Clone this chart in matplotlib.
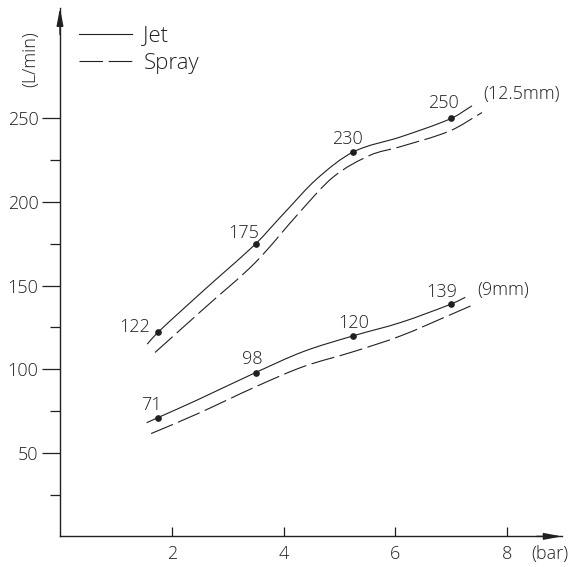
import numpy as np
import matplotlib
matplotlib.use("Agg")
import matplotlib.pyplot as plt
from matplotlib.path import Path
from matplotlib.patches import PathPatch
from matplotlib.lines import Line2D

plt.rcParams['font.family'] = ['Open Sans', 'DejaVu Sans']
plt.rcParams['font.weight'] = 'light'
plt.rcParams['axes.labelweight'] = 'light'
plt.rcParams['lines.scale_dashes'] = False

INK = '#231f20'

# ---- data ----
pressure_pts = [1.75, 3.5, 5.25, 7.0]          # bar
jet_125_pts = [122, 175, 230, 250]            # L/min, 12.5 mm nozzle
jet_9_pts = [71, 98, 120, 139]                # L/min, 9 mm nozzle

# traced curves
jet_125_x = [1.56, 1.75, 2.6, 3.5, 4.0, 4.6, 5.25, 6.1, 7.0, 7.37]
jet_125_y = [115, 122, 148, 175, 193, 214, 230, 239, 250, 257.5]
spray_125_x = [1.70, 2.6, 3.5, 4.29, 4.89, 5.55, 6.08, 6.98, 7.55]
spray_125_y = [110, 137, 164, 194, 215, 228, 233, 242.6, 253.5]
jet_9_x = [1.55, 1.75, 2.45, 3.5, 4.35, 5.25, 6.1, 7.0, 7.25]
jet_9_y = [68, 71, 81.5, 98, 110.5, 120, 128, 139, 143]
spray_9_x = [1.63, 2.45, 3.5, 4.35, 5.25, 6.1, 7.0, 7.41]
spray_9_y = [61.5, 73.2, 89.5, 101.5, 110.5, 120, 132.8, 138.8]

y_major = [50, 100, 150, 200, 250]
y_minor = [25, 75, 125, 175, 225]
x_major = [2, 4, 6, 8]


def smooth_path(xs, ys):
    xs = np.asarray(xs, float)
    ys = np.asarray(ys, float)
    n = len(xs)
    m = np.empty(n)
    for i in range(n):
        if i == 0:
            m[i] = (ys[1] - ys[0]) / (xs[1] - xs[0])
        elif i == n - 1:
            m[i] = (ys[-1] - ys[-2]) / (xs[-1] - xs[-2])
        else:
            m[i] = (ys[i + 1] - ys[i - 1]) / (xs[i + 1] - xs[i - 1])
    verts = [(xs[0], ys[0])]
    codes = [Path.MOVETO]
    for i in range(n - 1):
        dx = xs[i + 1] - xs[i]
        verts += [(xs[i] + dx / 3, ys[i] + m[i] * dx / 3),
                  (xs[i + 1] - dx / 3, ys[i + 1] - m[i + 1] * dx / 3),
                  (xs[i + 1], ys[i + 1])]
        codes += [Path.CURVE4] * 3
    return Path(verts, codes)


W, H = 577, 567
fig = plt.figure(figsize=(W / 100, H / 100), dpi=100)
x0_px, y0_px, xr_px, yt_px = 60, 536.4, 561.7, 8
ax = fig.add_axes([x0_px / W, (H - y0_px) / H, (xr_px - x0_px) / W, (y0_px - yt_px) / H])
ax.set_xlim(0, (xr_px - x0_px) / 55.9)
ax.set_ylim(0, (y0_px - yt_px) / 1.672)
ax.patch.set_visible(False)

for s in ['top', 'right']:
    ax.spines[s].set_visible(False)
for s in ['left', 'bottom']:
    ax.spines[s].set_color(INK)
    ax.spines[s].set_linewidth(1.0)

lw = 0.8
dash = (0, (17, 4))

for xs, ys, ls in [(jet_125_x, jet_125_y, '-'), (spray_125_x, spray_125_y, dash),
                   (jet_9_x, jet_9_y, '-'), (spray_9_x, spray_9_y, dash)]:
    ax.add_patch(PathPatch(smooth_path(xs, ys), fill=False, edgecolor=INK,
                           lw=lw, linestyle=ls, capstyle='butt'))

ax.plot(pressure_pts, jet_125_pts, 'o', color=INK, ms=3.8, zorder=5)
ax.plot(pressure_pts, jet_9_pts, 'o', color=INK, ms=3.8, zorder=5)

fs = 13
lbl_off_125 = [(-5.8, 0.5, 'right'), (-8.6, 4.1, 'center'), (-4.3, 5.8, 'center'), (-5.8, 7.2, 'center')]
lbl_off_9 = [(-4.3, 5.8, 'center'), (-2.2, 6.5, 'center'), (0, 5.8, 'center'), (-7.2, 5.0, 'center')]
for xs, ys, offs in [(pressure_pts, jet_125_pts, lbl_off_125), (pressure_pts, jet_9_pts, lbl_off_9)]:
    for x, y, (dx, dy, ha) in zip(xs, ys, offs):
        ax.annotate(str(y), (x, y), xytext=(dx, dy), textcoords='offset points',
                    ha=ha, va='baseline', fontsize=fs, color=INK)

ax.annotate('(12.5mm)', (jet_125_x[-1], jet_125_y[-1]), xytext=(8, 5), textcoords='offset points',
            ha='left', va='baseline', fontsize=fs, color=INK)
ax.annotate('(9mm)', (jet_9_x[-1], jet_9_y[-1]), xytext=(8.6, 1.5), textcoords='offset points',
            ha='left', va='baseline', fontsize=fs, color=INK)

# ticks
ax.set_yticks(y_major)
ax.set_yticks(y_minor, minor=True)
ax.set_xticks(x_major)
ax.set_xticks([], minor=True)
ax.tick_params(axis='y', which='major', direction='out', length=13.2, width=0.9,
               pad=2.4, labelsize=fs, colors=INK)
ax.tick_params(axis='y', which='minor', direction='out', length=7.2, width=0.9, colors=INK)
ax.tick_params(axis='x', which='major', direction='in', length=6.5, width=0.9,
               pad=6.5, labelsize=fs, colors=INK)

ax.set_ylabel('(L/min)', fontsize=fs, color=INK, va='center', fontweight='light')
ax.yaxis.set_label_coords(-0.059, (y0_px - 59) / (y0_px - yt_px))
ax.set_xlabel('(bar)', fontsize=fs, color=INK, va='center', fontweight='light')
ax.xaxis.set_label_coords((550 - x0_px) / (xr_px - x0_px), (y0_px - 554) / (y0_px - yt_px))

# axis arrows
arrow = dict(arrowstyle='-|>,head_length=1.05,head_width=0.2', color=INK, lw=1.0,
             shrinkA=0, shrinkB=0)
ax.annotate('', xy=(1, 0), xycoords='axes fraction', xytext=(0.95, 0), arrowprops=arrow)
ax.annotate('', xy=(0, 1), xycoords='axes fraction', xytext=(0, 0.95), arrowprops=arrow)

# legend
h_jet = Line2D([], [], color=INK, lw=lw)
h_spray = Line2D([], [], color=INK, lw=lw, linestyle=dash)
ax.legend([h_jet, h_spray], ['Jet', 'Spray'], loc='upper left',
          bbox_to_anchor=(79 / W, 1 - 25.5 / H), bbox_transform=fig.transFigure,
          frameon=False, fontsize=16, handlelength=2.4, handletextpad=0.5,
          borderpad=0, borderaxespad=0, labelspacing=0.3, labelcolor=INK)

fig.savefig('out.png', dpi=100)
